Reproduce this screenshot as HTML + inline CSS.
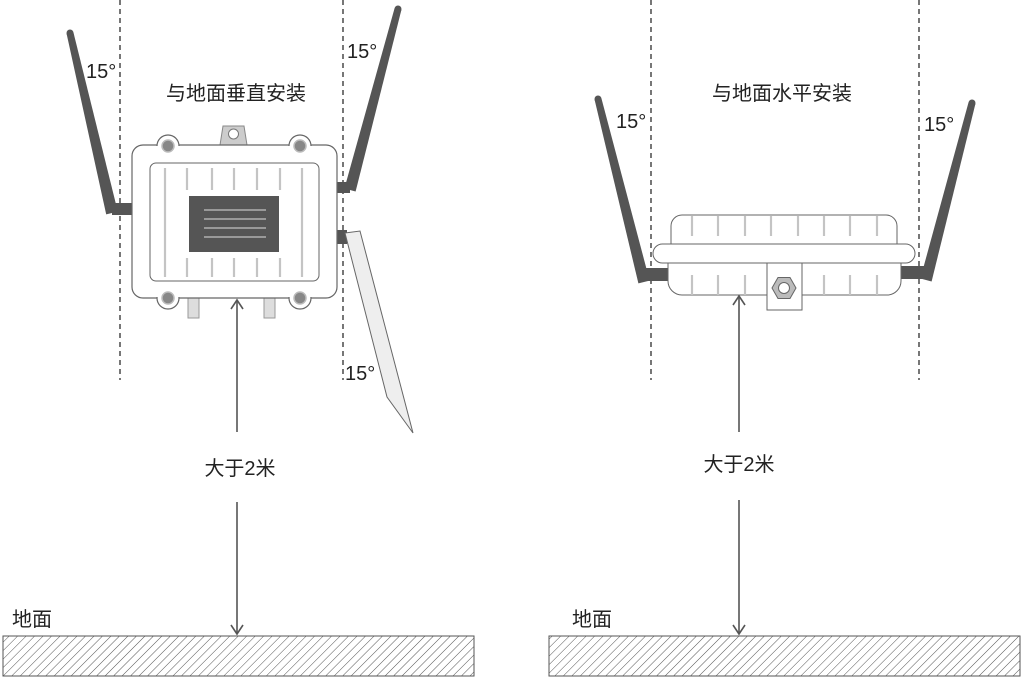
<!DOCTYPE html>
<html><head><meta charset="utf-8"><style>
body{margin:0;background:#fff}
svg{display:block}
text{font-family:"Liberation Sans","Noto Sans CJK SC",sans-serif;fill:#222}
</style></head><body>
<svg width="1022" height="678" viewBox="0 0 1022 678" xmlns="http://www.w3.org/2000/svg">
<defs>
<pattern id="h" width="6" height="6" patternUnits="userSpaceOnUse" patternTransform="rotate(45)">
<line x1="0" y1="0" x2="0" y2="6" stroke="#555" stroke-width="1"/>
</pattern>
</defs>
<g stroke="#555" stroke-width="1.6" stroke-dasharray="5,4" fill="none">
<line x1="120" y1="0" x2="120" y2="380"/><line x1="343" y1="0" x2="343" y2="380"/>
<line x1="651" y1="0" x2="651" y2="380"/><line x1="919" y1="0" x2="919" y2="380"/>
</g>
<!-- LEFT device -->
<g fill="#555">
<polygon points="73.4,32.2 117.8,211.6 106.2,214.4 66.6,33.8"/><circle cx="70" cy="33" r="3.5"/>
<polygon points="401.4,9.9 355.6,191.5 344.4,188.5 394.6,8.1"/><circle cx="398" cy="9" r="3.5"/>
</g>
<rect x="112" y="203" width="21" height="12" fill="#555"/>
<rect x="336" y="182" width="14" height="11" fill="#555"/>
<rect x="336" y="230" width="11" height="14" fill="#555"/>
<polygon points="345,233 360,231 413,433 387,397" fill="#eee" stroke="#666" stroke-width="1"/>
<polygon points="223,126 244,126 247,145 220,145" fill="#ccc" stroke="#888"/>
<circle cx="233.5" cy="134" r="5" fill="#fff" stroke="#777"/>
<rect x="188" y="296" width="11" height="22" fill="#ddd" stroke="#999"/>
<rect x="264" y="296" width="11" height="22" fill="#ddd" stroke="#999"/>
<rect x="132" y="145" width="205" height="153" rx="11" fill="#fff" stroke="#666" stroke-width="1.2"/>
<g fill="#fff" stroke="#666" stroke-width="1.2">
<circle cx="168" cy="146" r="11"/><circle cx="300" cy="146" r="11"/><circle cx="168" cy="298" r="11"/><circle cx="300" cy="298" r="11"/>
</g>
<rect x="133" y="146" width="203" height="151" rx="10" fill="#fff" stroke="none"/>
<g fill="#888" stroke="#bbb" stroke-width="1.5">
<circle cx="168" cy="146" r="6"/><circle cx="300" cy="146" r="6"/><circle cx="168" cy="298" r="6"/><circle cx="300" cy="298" r="6"/>
</g>
<rect x="150" y="163" width="169" height="118" rx="6" fill="#fff" stroke="#666" stroke-width="1"/>
<g stroke="#c4c4c4" stroke-width="2.2">
<line x1="165" y1="168" x2="165" y2="277"/><line x1="302" y1="168" x2="302" y2="277"/>
<line x1="187" y1="168" x2="187" y2="190"/><line x1="212" y1="168" x2="212" y2="190"/><line x1="234" y1="168" x2="234" y2="190"/><line x1="257" y1="168" x2="257" y2="190"/><line x1="280" y1="168" x2="280" y2="190"/>
<line x1="187" y1="258" x2="187" y2="277"/><line x1="212" y1="258" x2="212" y2="277"/><line x1="234" y1="258" x2="234" y2="277"/><line x1="257" y1="258" x2="257" y2="277"/><line x1="280" y1="258" x2="280" y2="277"/>
</g>
<rect x="189" y="196" width="90" height="56" fill="#555"/>
<g stroke="#ddd" stroke-width="1"><line x1="204" y1="210" x2="266" y2="210"/><line x1="204" y1="219" x2="266" y2="219"/><line x1="204" y1="228" x2="266" y2="228"/><line x1="204" y1="237" x2="266" y2="237"/></g>
<text x="86" y="78" font-size="20">15°</text>
<text x="347" y="58" font-size="20">15°</text>
<text x="345" y="380" font-size="20">15°</text>
<text x="236" y="100" font-size="20" text-anchor="middle">与地面垂直安装</text>
<g stroke="#555" stroke-width="1.6" fill="none">
<line x1="237" y1="300" x2="237" y2="432"/><polyline points="231,309 237,300 243,309"/>
<line x1="237" y1="502" x2="237" y2="634"/><polyline points="231,625 237,634 243,625"/>
</g>
<text x="240" y="475" font-size="20" text-anchor="middle">大于2米</text>
<text x="12" y="626" font-size="20">地面</text>
<rect x="3" y="636" width="471" height="40" fill="url(#h)" stroke="#555" stroke-width="1"/>
<!-- RIGHT device -->
<g fill="#555">
<polygon points="601.4,98.2 649.6,280.6 638.4,283.4 594.6,99.8"/><circle cx="598" cy="99" r="3.5"/>
<polygon points="975.4,103.9 931.6,281.5 920.4,278.5 968.6,102.1"/><circle cx="972" cy="103" r="3.5"/>
</g>
<rect x="644" y="268" width="25" height="13" fill="#555"/>
<rect x="900" y="266" width="26" height="13" fill="#555"/>
<path d="M671,245 V226 a11,11 0 0 1 11,-11 H886 a11,11 0 0 1 11,11 V245" fill="#fff" stroke="#666"/>
<path d="M668,263 V281 a14,14 0 0 0 14,14 H887 a14,14 0 0 0 14,-14 V263" fill="#fff" stroke="#666"/>
<rect x="653" y="244" width="262" height="19" rx="9.5" fill="#fff" stroke="#666"/>
<rect x="767" y="263" width="35" height="47" fill="#fff" stroke="#666"/>
<polygon points="772,288 778,277.5 790,277.5 796,288 790,298.5 778,298.5" fill="#bbb" stroke="#666"/>
<circle cx="784" cy="288" r="5.5" fill="#fff" stroke="#666"/>
<g stroke="#c4c4c4" stroke-width="2.2">
<line x1="692" y1="216" x2="692" y2="236"/><line x1="718" y1="216" x2="718" y2="236"/><line x1="745" y1="216" x2="745" y2="236"/><line x1="771" y1="216" x2="771" y2="236"/><line x1="798" y1="216" x2="798" y2="236"/><line x1="824" y1="216" x2="824" y2="236"/><line x1="850" y1="216" x2="850" y2="236"/><line x1="877" y1="216" x2="877" y2="236"/>
<line x1="692" y1="275" x2="692" y2="295"/><line x1="718" y1="275" x2="718" y2="295"/><line x1="745" y1="275" x2="745" y2="295"/><line x1="824" y1="275" x2="824" y2="295"/><line x1="850" y1="275" x2="850" y2="295"/><line x1="877" y1="275" x2="877" y2="295"/>
</g>
<text x="616" y="128" font-size="20">15°</text>
<text x="924" y="131" font-size="20">15°</text>
<text x="782" y="100" font-size="20" text-anchor="middle">与地面水平安装</text>
<g stroke="#555" stroke-width="1.6" fill="none">
<line x1="739" y1="296" x2="739" y2="432"/><polyline points="733,305 739,296 745,305"/>
<line x1="739" y1="500" x2="739" y2="634"/><polyline points="733,625 739,634 745,625"/>
</g>
<text x="739" y="471" font-size="20" text-anchor="middle">大于2米</text>
<text x="572" y="626" font-size="20">地面</text>
<rect x="549" y="636" width="471" height="40" fill="url(#h)" stroke="#555" stroke-width="1"/>
</svg>
</body></html>
